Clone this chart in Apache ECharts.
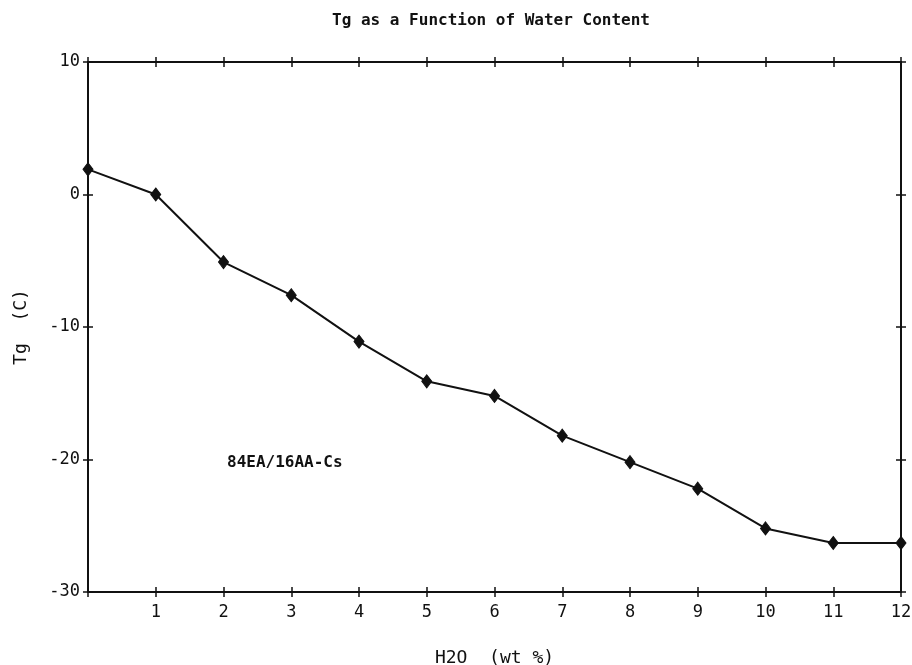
<!DOCTYPE html>
<html>
<head>
<meta charset="utf-8">
<title>Tg as a Function of Water Content</title>
<script src="https://cdn.jsdelivr.net/npm/echarts@6/dist/echarts.min.js"></script>
<style>
  html, body { margin: 0; padding: 0; background: #ffffff; }
  #chart { width: 912px; height: 665px; }
</style>
</head>
<body>
<div id="chart"></div>
<script>
// Glass transition temperature vs. water content
const waterContent = [0, 1, 2, 3, 4, 5, 6, 7, 8, 9, 10, 11, 12];
const tgValues = [1.9, 0, -5.1, -7.6, -11.1, -14.1, -15.2, -18.2, -20.2, -22.2, -25.2, -26.3, -26.3];
const titleText = 'Tg as a Function of Water Content';
const sampleLabel = '84EA/16AA-Cs';
const xAxisName = 'H2O  (wt %)';
const yAxisName = 'Tg  (C)';

const ink = '#111111';
const mono = '"DejaVu Sans Mono", "Liberation Mono", monospace';

const chart = echarts.init(document.getElementById('chart'), null, { renderer: 'canvas' });

// Frame axes: one set carries ticks outward, a twin set carries ticks inward,
// so every tick crosses the frame line.
function xFrame(position, inside, showLabel, showLine) {
  return {
    type: 'value', position: position, min: 0, max: 12, interval: 1,
    axisLine: { show: showLine, onZero: false, lineStyle: { color: ink, width: 2 } },
    axisTick: { show: true, inside: inside, length: 5, lineStyle: { color: ink, width: 1.5 } },
    splitLine: { show: false },
    axisLabel: showLabel ? {
      show: true, margin: 12, color: ink, fontFamily: mono, fontSize: 17,
      formatter: v => (v === 0 ? '' : String(v))
    } : { show: false }
  };
}
function yFrame(position, inside, showLabel, showLine) {
  return {
    type: 'value', position: position, min: -30, max: 10, interval: 10,
    axisLine: { show: showLine, onZero: false, lineStyle: { color: ink, width: 2 } },
    axisTick: { show: true, inside: inside, length: 5, lineStyle: { color: ink, width: 1.5 } },
    splitLine: { show: false },
    axisLabel: showLabel ? {
      show: true, margin: 8, color: ink, fontFamily: mono, fontSize: 17
    } : { show: false }
  };
}

const xMain = xFrame('bottom', false, true, true);
xMain.name = xAxisName;
xMain.nameLocation = 'middle';
xMain.nameGap = 57;
xMain.nameTextStyle = { color: ink, fontFamily: mono, fontSize: 18 };

const yMain = yFrame('left', false, true, true);
yMain.name = yAxisName;
yMain.nameLocation = 'middle';
yMain.nameGap = 58;
yMain.nameTextStyle = { color: ink, fontFamily: mono, fontSize: 18 };

chart.setOption({
  backgroundColor: '#ffffff',
  animation: false,
  grid: { left: 88, right: 11, top: 62, bottom: 73, containLabel: false, outerBoundsMode: 'none' },
  xAxis: [
    xMain,
    xFrame('bottom', true, false, false),
    xFrame('top', false, false, true),
    xFrame('top', true, false, false)
  ],
  yAxis: [
    yMain,
    yFrame('left', true, false, false),
    yFrame('right', false, false, true),
    yFrame('right', true, false, false)
  ],
  graphic: [
    {
      type: 'text', x: 491, y: 21,
      style: {
        text: titleText, fill: ink, font: 'bold 16px ' + mono,
        align: 'center', verticalAlign: 'middle'
      }
    },
    {
      type: 'text', x: 227, y: 463,
      style: {
        text: sampleLabel, fill: ink, font: 'bold 16px ' + mono,
        align: 'left', verticalAlign: 'middle'
      }
    }
  ],
  series: [
    {
      type: 'line',
      xAxisIndex: 0,
      yAxisIndex: 0,
      data: waterContent.map((w, i) => [w, tgValues[i]]),
      symbol: 'diamond',
      symbolSize: [10, 13],
      showSymbol: true,
      clip: false,
      lineStyle: { color: ink, width: 2 },
      itemStyle: { color: ink, borderColor: ink },
      z: 5
    }
  ]
});
</script>
</body>
</html>
